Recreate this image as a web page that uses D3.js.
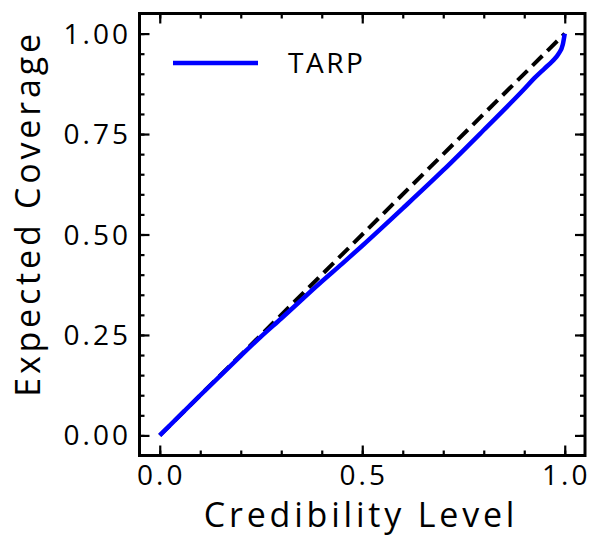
<!DOCTYPE html>
<html>
<head>
<meta charset="utf-8">
<script src="https://cdn.jsdelivr.net/npm/d3@7"></script>
<style>
  body { margin: 0; background: #fff; }
  text { font-family: "Open Sans", "Noto Sans", sans-serif; font-weight: 400; fill: #000; }
</style>
</head>
<body>
<div id="chart"></div>
<script>
// credibility levels and expected coverage
var credLevel = [0, 0.1, 0.2, 0.25, 0.3, 0.4, 0.45, 0.5, 0.6, 0.7, 0.8, 0.9, 0.925, 0.95, 0.97, 0.985, 0.995, 1.0];
var coverage  = [0, 0.1, 0.198, 0.246, 0.291, 0.383, 0.427, 0.472, 0.565, 0.66, 0.76, 0.862, 0.889, 0.913, 0.932, 0.95, 0.972, 1.0];
var diagonal  = [0, 1];
var xTicks = [0, 0.5, 1.0];
var yTicks = [0, 0.25, 0.5, 0.75, 1.0];
var xMinor = d3.range(0, 11).map(function(d){ return d / 10 });
var yMinor = d3.range(0, 21).map(function(d){ return d / 20 });
var seriesName = "TARP";

function drawChart(selector){
    var width = 598, height = 537;
    var pLeft = 139.5, pRight = 585, pTop = 13.5, pBottom = 455.5;

    var svg = d3.select(selector)
        .append("svg")
        .attr("width", width)
        .attr("height", height)

    var x = d3.scaleLinear().domain([-0.05, 1.05]).range([pLeft, pRight])
    var y = d3.scaleLinear().domain([-0.05, 1.05]).range([pBottom, pTop])

    // ticks, pointing inward on all four sides
    function ticks(axis, scale, values, size, pos){
        svg.append("g")
            .attr("transform", pos)
            .call(axis(scale).tickValues(values).tickSize(size).tickFormat(""))
            .call(function(g){ g.select(".domain").remove() })
            .selectAll("line").attr("stroke", "#000").attr("stroke-width", 2.2)
    }
    ticks(d3.axisTop, x, xMinor, 5, "translate(0," + pBottom + ")")
    ticks(d3.axisTop, x, xTicks, 10, "translate(0," + pBottom + ")")
    ticks(d3.axisBottom, x, xMinor, 5, "translate(0," + pTop + ")")
    ticks(d3.axisBottom, x, xTicks, 10, "translate(0," + pTop + ")")
    ticks(d3.axisRight, y, yMinor, 5, "translate(" + pLeft + ",0)")
    ticks(d3.axisRight, y, yTicks, 10, "translate(" + pLeft + ",0)")
    ticks(d3.axisLeft, y, yMinor, 5, "translate(" + pRight + ",0)")
    ticks(d3.axisLeft, y, yTicks, 10, "translate(" + pRight + ",0)")

    // tick labels (letter-spacing widens the font; trailing space compensated)
    svg.append("g").selectAll("text")
        .data(xTicks).enter().append("text")
        .attr("x", function(d){ return x(d) + 1.5 })
        .attr("y", 485)
        .attr("text-anchor", "middle")
        .style("font-size", "28px")
        .style("letter-spacing", "3px")
        .text(function(d){ return d3.format(".1f")(d) })

    svg.append("g").selectAll("text")
        .data(yTicks).enter().append("text")
        .attr("x", 131)
        .attr("y", function(d){ return y(d) + 10 })
        .attr("text-anchor", "end")
        .style("font-size", "28px")
        .style("letter-spacing", "3px")
        .text(function(d){ return d3.format(".2f")(d) })

    // axis labels
    svg.append("text")
        .attr("x", 361)
        .attr("y", 527)
        .attr("text-anchor", "middle")
        .style("font-size", "34px")
        .style("letter-spacing", "3.8px")
        .text("Credibility Level")

    svg.append("text")
        .attr("transform", "translate(40,213.5) rotate(-90)")
        .attr("text-anchor", "middle")
        .style("font-size", "34px")
        .style("letter-spacing", "3.8px")
        .text("Expected Coverage")

    // lines
    var line = d3.line()
        .x(function(d){ return x(d[0]) })
        .y(function(d){ return y(d[1]) })

    svg.append("path")
        .datum(diagonal.map(function(d){ return [d, d] }))
        .attr("d", line.curve(d3.curveLinear))
        .attr("fill", "none")
        .attr("stroke", "#000")
        .attr("stroke-width", 4)
        .attr("stroke-dasharray", "14,7")

    svg.append("path")
        .datum(credLevel.map(function(c, i){ return [c, coverage[i]] }))
        .attr("d", line.curve(d3.curveMonotoneX))
        .attr("fill", "none")
        .attr("stroke", "#0000ff")
        .attr("stroke-width", 4.5)

    // legend
    svg.append("line")
        .attr("x1", 173).attr("x2", 258)
        .attr("y1", 63).attr("y2", 63)
        .attr("stroke", "#0000ff")
        .attr("stroke-width", 4.5)

    svg.append("text")
        .attr("x", 288)
        .attr("y", 73)
        .style("font-size", "28px")
        .style("letter-spacing", "2.5px")
        .text(seriesName)

    // frame
    svg.append("rect")
        .attr("x", pLeft).attr("y", pTop)
        .attr("width", pRight - pLeft).attr("height", pBottom - pTop)
        .attr("fill", "none")
        .attr("stroke", "#000")
        .attr("stroke-width", 3)
}

drawChart("#chart")
</script>
</body>
</html>
